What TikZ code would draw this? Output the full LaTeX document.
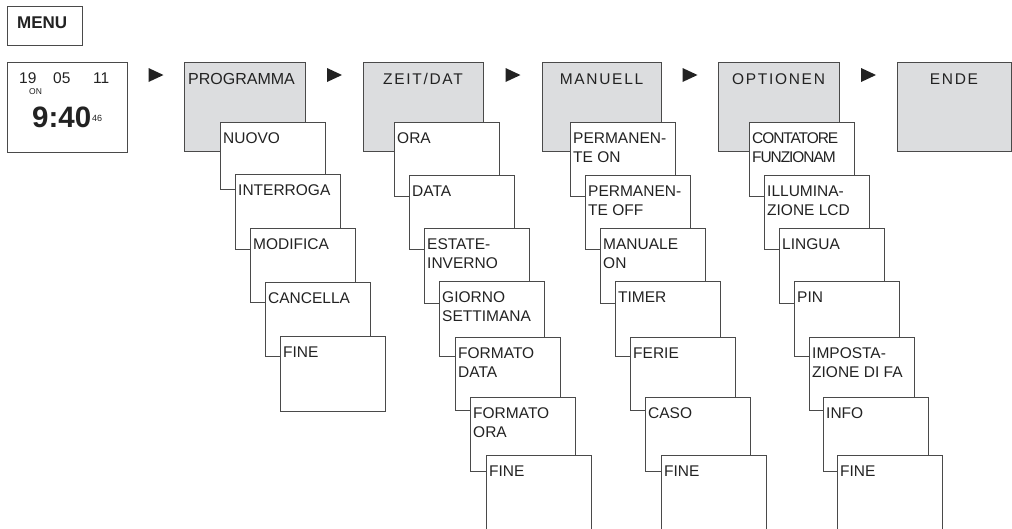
\documentclass[tikz,border=0pt]{standalone}
\usepackage{fontspec}
\setmainfont{Liberation Sans}
\usetikzlibrary{calc}
\definecolor{lc}{HTML}{4A4A4A}
\definecolor{hdrgray}{HTML}{DCDDDF}
\definecolor{tc}{HTML}{222222}
\newcommand\subfont{\fontsize{15.5}{19.5}\selectfont}
\newcommand\twol[2]{\vtop{\baselineskip=19.5pt\hbox{#1}\hbox{#2}}}
\tikzset{
  box/.style={draw=lc, line width=1pt, fill=white, anchor=north west, inner sep=0pt, outer sep=0pt, minimum width=105pt},
  hdr/.style={draw=lc, line width=1pt, fill=hdrgray, anchor=north west, inner sep=0pt, outer sep=0pt, minimum height=89pt},
  txt/.style={anchor=base west, inner sep=0pt, text=tc, font=\subfont},
  htxt/.style={anchor=base, inner sep=0pt, text=tc, font=\subfont\addfontfeature{LetterSpace=11}},
  tri/.style={fill=tc}
}
\newcommand\subbox[5]{%
  \node[box, minimum height={#4-#3}] (#1) at (#2,#3) {};
  \node[txt] (#1t) at ([xshift=3pt,yshift=-21pt]#1.north west) {#5};}
\newcommand\arrowtri[3]{%
  \coordinate (#1) at ($(#2.north east)!0.5!(#3.north west)+(0,13)$);
  \fill[tri] ([xshift=-7pt,yshift=7pt]#1) -- ([xshift=-7pt,yshift=-7pt]#1) -- ([xshift=8pt]#1) -- cycle;}
\begin{document}
\begin{tikzpicture}[x=1pt,y=-1pt]
\useasboundingbox (0,0) rectangle (1012,528);
\clip (0,0) rectangle (1012,528);
% MENU
\node[box, minimum width=75pt, minimum height=39pt] (menu) at (7,6) {};
\node[anchor=base west, inner sep=0pt, text=tc, font=\fontsize{17}{20}\selectfont\bfseries] (menut) at (17,28) {MENU};
% clock
\node[box, minimum width=120pt, minimum height=90pt] (clock) at (7,62) {};
\node[txt] (d1) at (19,83) {19};
\node[txt] (d2) at (53,83) {05};
\node[txt] (d3) at (93,83) {11};
\node[anchor=base west, inner sep=0pt, text=tc, font=\fontsize{8.5}{10}\selectfont] (on) at (29,94) {ON};
\node[anchor=base west, inner sep=0pt, text=tc, font=\fontsize{29.5}{32}\selectfont\bfseries] (time) at (32,127) {9:40};
\node[anchor=base west, inner sep=0pt, text=tc, font=\fontsize{9}{10}\selectfont] (sec) at (92,121) {46};
% headers
\node[hdr, minimum width=121pt] (prog) at (184,62) {};
\node[hdr, minimum width=120pt] (zeit) at (363,62) {};
\node[hdr, minimum width=119pt] (man) at (542,62) {};
\node[hdr, minimum width=121pt] (opt) at (718,62) {};
\node[hdr, minimum width=114pt] (ende) at (897,62) {};
\node[anchor=base west, inner sep=0pt, text=tc, font=\fontsize{16}{19}\selectfont] (progt) at (188,84) {PROGRAMMA};
\node[htxt] (zeitt) at ([yshift=-22pt]zeit.north) {ZEIT/DAT};
\node[htxt] (mant) at ([yshift=-22pt]man.north) {MANUELL};
\node[htxt] (optt) at ([yshift=-22pt]opt.north) {OPTIONEN};
\node[htxt] (endet) at ([yshift=-22pt]ende.north) {ENDE};
% arrows
\arrowtri{a1}{clock}{prog}
\arrowtri{a2}{prog}{zeit}
\arrowtri{a3}{zeit}{man}
\arrowtri{a4}{man}{opt}
\arrowtri{a5}{opt}{ende}
% PROGRAMMA column
\subbox{p1}{220}{122}{189}{NUOVO}
\subbox{p2}{235}{174}{249}{INTERROGA}
\subbox{p3}{250}{228}{302}{MODIFICA}
\subbox{p4}{265}{282}{356}{CANCELLA}
\subbox{p5}{280}{336}{411}{FINE}
% ZEIT/DAT column
\subbox{z1}{394}{122}{196}{ORA}
\subbox{z2}{409}{175}{249}{DATA}
\subbox{z3}{424}{228}{303}{\twol{ESTATE-}{INVERNO}}
\subbox{z4}{439}{281}{356}{\twol{GIORNO}{SETTIMANA}}
\subbox{z5}{455}{337}{410}{\twol{FORMATO}{DATA}}
\subbox{z6}{470}{397}{471}{\twol{FORMATO}{ORA}}
\subbox{z7}{486}{455}{560}{FINE}
% MANUELL column
\subbox{m1}{570}{122}{196}{\twol{PERMANEN-}{TE ON}}
\subbox{m2}{585}{175}{249}{\twol{PERMANEN-}{TE OFF}}
\subbox{m3}{600}{228}{303}{\twol{MANUALE}{ON}}
\subbox{m4}{615}{281}{356}{TIMER}
\subbox{m5}{630}{337}{410}{FERIE}
\subbox{m6}{645}{397}{471}{CASO}
\subbox{m7}{661}{455}{560}{FINE}
% OPTIONEN column
\subbox{o1}{749}{122}{196}{\addfontfeature{LetterSpace=-7}\twol{CONTATORE}{FUNZIONAM}}
\subbox{o2}{764}{175}{249}{\twol{ILLUMINA-}{ZIONE LCD}}
\subbox{o3}{779}{228}{303}{LINGUA}
\subbox{o4}{794}{281}{356}{PIN}
\subbox{o5}{809}{337}{410}{\twol{IMPOSTA-}{ZIONE DI FA}}
\subbox{o6}{823}{397}{471}{INFO}
\subbox{o7}{837}{455}{560}{FINE}
\end{tikzpicture}
\end{document}
